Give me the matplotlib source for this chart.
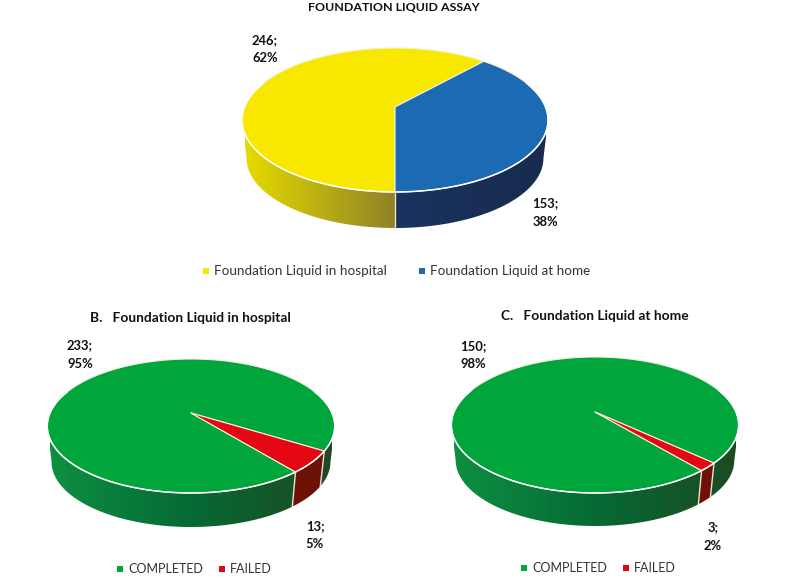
import numpy as np
import matplotlib

matplotlib.use("Agg")
import matplotlib.pyplot as plt
from matplotlib.patches import Polygon

plt.rcParams["font.family"] = ["Lato", "DejaVu Sans"]

# values
assay_labels = ["Foundation Liquid in hospital", "Foundation Liquid at home"]
assay_values = [246, 153]
outcome_labels = ["COMPLETED", "FAILED"]
hospital_values = [233, 13]
home_values = [150, 3]

YELLOW = "#F8E800"
BLUE = "#1C69B4"
GREEN = "#00A53C"
RED = "#E30613"

# wall shading, (fraction across the pie, colour)
YELLOW_WALL = [(0.0, "#E6DA00"), (0.5, "#8F8228")]
BLUE_WALL = [(0.5, "#1A3360"), (1.0, "#172B4E")]
GREEN_WALL = [(0.0, "#0E8F42"), (0.5, "#056A34"), (1.0, "#1E4A22")]
RED_WALL = [(0.0, "#6E1208"), (1.0, "#6E1208")]

W, H = 785, 579


def shade(stops, f):
    rgb = [matplotlib.colors.to_rgb(c) for _, c in stops]
    pos = [p for p, _ in stops]
    return np.stack([np.interp(f, pos, [c[i] for c in rgb]) for i in range(3)], axis=-1)


def draw_pie(ax, cx, cy, values, start, colors, walls, s, far, near, depth):
    # perspective of a flat disc: k and a come from the far and near rim distances
    k = (near - far) / (near + far)
    a = far * (1 + k)
    sb = 0.97
    off = depth + near * (1 - sb)

    def top(t):
        c = np.cos(t)
        return cx + s * np.sin(t) / (1 + k * c), cy - a * c / (1 + k * c)

    def bottom(t):
        x, y = top(t)
        return cx + (x - cx) * sb, cy + (y - cy) * sb + off

    edges = np.radians(start + np.cumsum([0] + list(values)) / sum(values) * 360)
    limit = np.arccos(-k)
    fs = np.linspace(0, 1, 300)
    for i in range(len(values)):
        # front-facing parts of this wedge's wall, a big wedge can have two
        ts = np.linspace(edges[i], edges[i + 1], 800)
        front = np.cos(ts) < -k
        breaks = np.where(np.diff(front.astype(int)) != 0)[0] + 1
        for run in np.split(ts, breaks):
            if len(run) < 2 or np.cos(run[len(run) // 2]) >= -k:
                continue
            xt, yt = top(run)
            xb, yb = bottom(run)
            pts = list(zip(xt, yt)) + list(zip(xb[::-1], yb[::-1]))
            clip = Polygon(pts, fc="none", ec="none", transform=ax.transData)
            ax.add_patch(clip)
            grad = shade(walls[i], fs)[np.newaxis, :, :]
            im = ax.imshow(grad, extent=(cx - s, cx + s, cy + near + depth + 5, cy - 5),
                           aspect="auto", interpolation="bilinear", zorder=2)
            im.set_clip_path(clip)
    ax.set_xlim(0, W)
    ax.set_ylim(H, 0)
    # seams where two wedges meet on the wall
    for t in edges[:-1]:
        if np.cos(t) < -k:
            x0, y0 = top(t)
            x1, y1 = bottom(t)
            ax.plot([x0, x1], [y0, y1], color="#E8E4D0", lw=1.0, zorder=3)
    for i in range(len(values)):
        ts = np.linspace(edges[i], edges[i + 1], 200)
        xs, ys = top(ts)
        pts = [(cx, cy)] + list(zip(xs, ys))
        ax.add_patch(Polygon(pts, fc=colors[i], ec="#F4F1DC", lw=0.8, joinstyle="round", zorder=4))
    ts = np.linspace(limit - 0.55, 2 * np.pi - limit + 0.55, 300)
    xs, ys = top(ts)
    ax.plot(xs, ys, color="white", lw=1.1, zorder=5)


def value_label(ax, x, y, value, values):
    pct = round(100 * value / sum(values))
    ax.text(x, y, f"{value};", ha="center", va="center", fontsize=9.4, fontweight="bold", color="#111111")
    ax.text(x, y + 18.5, f"{pct}%", ha="center", va="center", fontsize=9.4, fontweight="bold", color="#111111")


def legend_item(ax, x, y, color, label, size=9.7):
    ax.plot([x], [y], marker="s", ms=4.2, color=color, mew=0)
    ax.text(x + 8, y, label, ha="left", va="center", fontsize=size, color="#333333")


fig = plt.figure(figsize=(W / 100, H / 100), dpi=100)
ax = fig.add_axes([0, 0, 1, 1])
ax.set_xlim(0, W)
ax.set_ylim(H, 0)
ax.axis("off")

draw_pie(ax, 395, 107, assay_values, 180, [YELLOW, BLUE], [YELLOW_WALL, BLUE_WALL], 150.5, 59, 85, 36)
draw_pie(ax, 191, 413, hospital_values, 141, [GREEN, RED], [GREEN_WALL, RED_WALL], 141, 54, 80, 34)
draw_pie(ax, 595, 412, home_values, 139.8, [GREEN, RED], [GREEN_WALL, RED_WALL], 141, 55, 81, 33)

ax.text(394, 7, "FOUNDATION LIQUID ASSAY", ha="center", va="center", fontsize=8.9, fontweight="bold", color="#111111")
ax.text(190, 318, "B.   Foundation Liquid in hospital", ha="center", va="center", fontsize=9.9, fontweight="bold", color="#111111")
ax.text(594.5, 316, "C.   Foundation Liquid at home", ha="center", va="center", fontsize=9.9, fontweight="bold", color="#111111")

value_label(ax, 265, 40, assay_values[0], assay_values)
value_label(ax, 545, 203, assay_values[1], assay_values)
value_label(ax, 80, 345, hospital_values[0], hospital_values)
value_label(ax, 315, 526, hospital_values[1], hospital_values)
value_label(ax, 473, 346, home_values[0], home_values)
value_label(ax, 713, 527, home_values[1], home_values)

legend_item(ax, 206, 271, YELLOW, assay_labels[0])
legend_item(ax, 422, 271, BLUE, assay_labels[1])
legend_item(ax, 120, 569, GREEN, outcome_labels[0], 9.0)
legend_item(ax, 222, 569, RED, outcome_labels[1], 9.0)
legend_item(ax, 524, 568, GREEN, outcome_labels[0], 9.0)
legend_item(ax, 626, 568, RED, outcome_labels[1], 9.0)

fig.savefig("out.png", dpi=100)
plt.close(fig)
